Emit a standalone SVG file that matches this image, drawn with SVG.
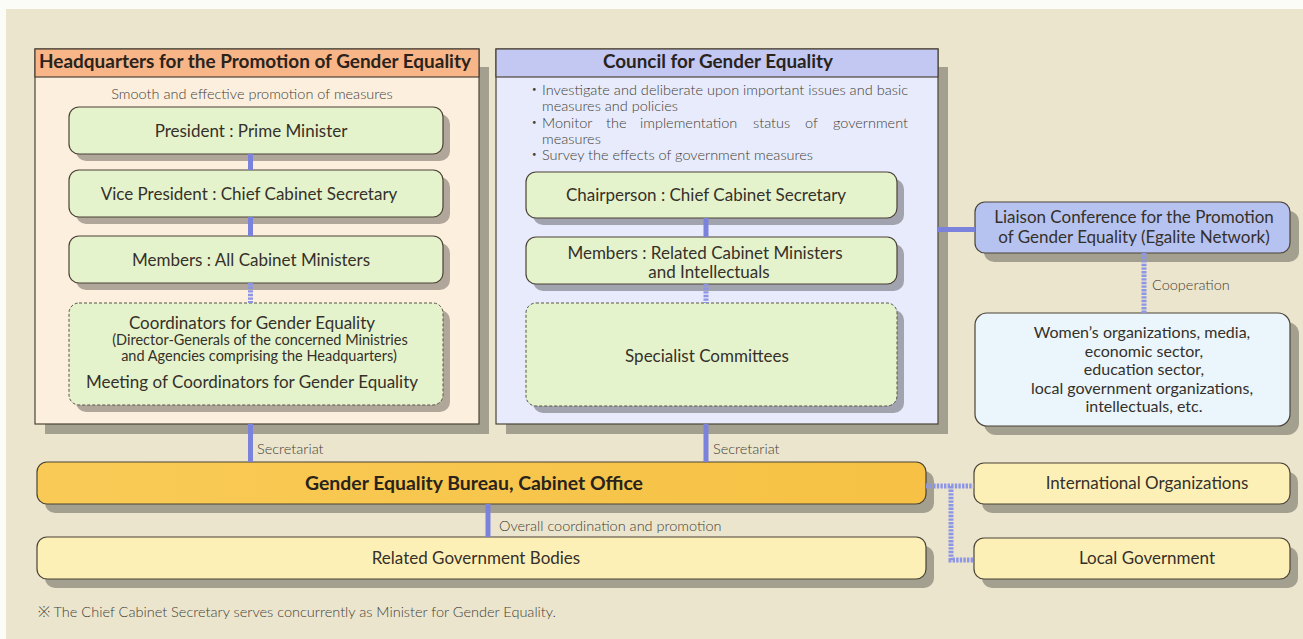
<svg xmlns="http://www.w3.org/2000/svg" width="1303" height="639" viewBox="0 0 1303 639">
  <defs>
    <linearGradient id="gold" x1="0" y1="0" x2="1" y2="0">
      <stop offset="0" stop-color="#f9cb56"/>
      <stop offset="1" stop-color="#f6c144"/>
    </linearGradient>
  </defs>
  <style>
    text { font-family: Lato, "Noto Sans", "Noto Sans CJK JP", sans-serif; fill: #35302a; }
    .c { text-anchor: middle; }
    .t17 { font-size: 17px; }
    .t16 { font-size: 16px; }
    .t15 { font-size: 14.5px; }
    .hd { font-size: 18px; font-weight: 700; fill: #29231c; }
    .lt { font-size: 14.5px; font-weight: 300; fill: #433e37; }
    .lb { font-size: 14.5px; font-weight: 300; fill: #433e37; }
    .box { stroke: #4b4337; stroke-width: 1.2; }
    .green { fill: #e5f3cc; }
    .dash { stroke-dasharray: 3 2; stroke-width: 1; stroke: #5a5247; }
    .pale { fill: #fdf0b7; }
    .sh { fill: #000; fill-opacity: 0.3; }
    .solid { stroke: #7b82dc; stroke-width: 5; fill: none; }
    .dot { stroke: #8c95e6; stroke-width: 5; stroke-dasharray: 2.4 1.2; fill: none; }
  </style>

  <!-- paper -->
  <rect width="1303" height="639" fill="#fbfbf8"/>
  <rect x="6" y="9" width="1297" height="630" fill="#ebe5cd"/>

  <!-- Headquarters -->
  <g id="headquarters">
    <rect class="sh" x="45" y="67" width="444" height="367"/>
    <rect class="box" x="35" y="49" width="444" height="375" fill="#fcefdd"/>
    <rect class="box" x="35" y="49" width="444" height="28" fill="#f8b588"/>
    <text class="hd c" x="255" y="68" textLength="432" lengthAdjust="spacingAndGlyphs">Headquarters for the Promotion of Gender Equality</text>
    <text class="lt c" x="252" y="99">Smooth and effective promotion of measures</text>
  </g>

  <g id="hq-president">
    <rect class="sh" x="76" y="114" width="374" height="47" rx="10"/>
    <rect class="box green" x="69" y="107" width="374" height="47" rx="10"/>
    <text class="t17 c" x="251" y="137">President : Prime Minister</text>
  </g>
  <g id="hq-vice-president">
    <rect class="sh" x="76" y="177" width="374" height="47" rx="10"/>
    <rect class="box green" x="69" y="170" width="374" height="47" rx="10"/>
    <text class="t17 c" x="249" y="200">Vice President : Chief Cabinet Secretary</text>
  </g>
  <g id="hq-members">
    <rect class="sh" x="76" y="243" width="374" height="47" rx="10"/>
    <rect class="box green" x="69" y="236" width="374" height="47" rx="10"/>
    <text class="t17 c" x="251" y="266">Members : All Cabinet Ministers</text>
  </g>
  <g id="hq-coordinators">
    <rect class="sh" x="76" y="310" width="374" height="102" rx="10"/>
    <rect class="green dash" x="69" y="303" width="374" height="102" rx="10"/>
    <text class="t17 c" x="252" y="329">Coordinators for Gender Equality</text>
    <text class="t15 c" x="260" y="345">(Director-Generals of the concerned Ministries</text>
    <text class="t15 c" x="259" y="361">and Agencies comprising the Headquarters)</text>
    <text class="t17 c" x="252" y="388">Meeting of Coordinators for Gender Equality</text>
  </g>

  <!-- Council -->
  <g id="council">
    <rect class="sh" x="506" y="67" width="442" height="367"/>
    <rect class="box" x="496" y="49" width="442" height="375" fill="#e7ebfb"/>
    <rect class="box" x="496" y="49" width="442" height="28" fill="#c2c8f2"/>
    <text class="hd c" x="718" y="68" textLength="230" lengthAdjust="spacingAndGlyphs">Council for Gender Equality</text>
    <text class="lt" x="527" y="95">・</text>
    <text class="lt" x="542" y="95" textLength="366" lengthAdjust="spacing">Investigate and deliberate upon important issues and basic</text>
    <text class="lt" x="542" y="111">measures and policies</text>
    <text class="lt" x="527" y="128">・</text>
    <text class="lt" y="128"><tspan x="542">Monitor</tspan><tspan x="606">the</tspan><tspan x="640">implementation</tspan><tspan x="753">status</tspan><tspan x="805">of</tspan><tspan x="908" text-anchor="end">government</tspan></text>
    <text class="lt" x="542" y="144">measures</text>
    <text class="lt" x="527" y="160">・</text>
    <text class="lt" x="542" y="160">Survey the effects of government measures</text>
  </g>

  <g id="council-chairperson">
    <rect class="sh" x="533" y="179" width="371" height="46" rx="10"/>
    <rect class="box green" x="526" y="172" width="371" height="46" rx="10"/>
    <text class="t17 c" x="706" y="201">Chairperson : Chief Cabinet Secretary</text>
  </g>
  <g id="council-members">
    <rect class="sh" x="533" y="244" width="371" height="47" rx="10"/>
    <rect class="box green" x="526" y="237" width="371" height="47" rx="10"/>
    <text class="t17 c" x="705" y="259">Members : Related Cabinet Ministers</text>
    <text class="t17 c" x="709" y="278">and Intellectuals</text>
  </g>
  <g id="council-specialist">
    <rect class="sh" x="533" y="310" width="371" height="103" rx="10"/>
    <rect class="green dash" x="526" y="303" width="371" height="103" rx="10"/>
    <text class="t17 c" x="707" y="362">Specialist Committees</text>
  </g>

  <!-- Egalite network -->
  <g id="liaison">
    <rect class="sh" x="984" y="211" width="315" height="51" rx="10"/>
    <rect class="box" x="975" y="202" width="315" height="51" rx="10" fill="#b6c3f0"/>
    <text class="t17 c" x="1134" y="223">Liaison Conference for the Promotion</text>
    <text class="t17 c" x="1134" y="243">of Gender Equality (Egalite Network)</text>
  </g>
  <g id="cooperating-bodies">
    <rect class="sh" x="984" y="322" width="315" height="113" rx="12"/>
    <rect class="box" x="975" y="313" width="315" height="113" rx="12" fill="#eaf6fc"/>
    <text class="t16 c" x="1142" y="338">Women’s organizations, media,</text>
    <text class="t16 c" x="1144" y="356.5">economic sector,</text>
    <text class="t16 c" x="1144" y="375">education sector,</text>
    <text class="t16 c" x="1142" y="393.5">local government organizations,</text>
    <text class="t16 c" x="1144" y="412">intellectuals, etc.</text>
  </g>

  <!-- Bureau and related bodies -->
  <g id="bureau">
    <rect class="sh" x="45" y="471" width="889" height="42" rx="10"/>
    <rect class="box" x="37" y="462" width="889" height="42" rx="10" fill="url(#gold)"/>
    <text class="hd c" x="474" y="490" textLength="338" lengthAdjust="spacingAndGlyphs">Gender Equality Bureau, Cabinet Office</text>
  </g>
  <g id="related-bodies">
    <rect class="sh" x="45" y="546" width="889" height="42" rx="10"/>
    <rect class="box pale" x="37" y="537" width="889" height="42" rx="10"/>
    <text class="t17 c" x="476" y="564">Related Government Bodies</text>
  </g>
  <g id="international">
    <rect class="sh" x="982" y="472" width="316" height="41" rx="10"/>
    <rect class="box pale" x="974" y="463" width="316" height="41" rx="10"/>
    <text class="t17 c" x="1147" y="489">International Organizations</text>
  </g>
  <g id="local-government">
    <rect class="sh" x="982" y="547" width="316" height="41" rx="10"/>
    <rect class="box pale" x="974" y="538" width="316" height="41" rx="10"/>
    <text class="t17 c" x="1147" y="564">Local Government</text>
  </g>

  <!-- connectors -->
  <g id="connectors">
    <path class="solid" d="M250.5 154V170M250.5 217V236M250.5 424V462"/>
    <path class="dot" d="M250.5 283V303"/>
    <path class="solid" d="M706 218V237M706 424V462"/>
    <path class="dot" d="M706 284V303"/>
    <path class="solid" d="M938 229.5H975"/>
    <path class="solid" d="M488 504V537"/>
    <path class="dot" d="M1144 253V313"/>
    <path class="dot" d="M926 486H974M951 486V560H974"/>
    <text class="lb" x="257" y="454">Secretariat</text>
    <text class="lb" x="713" y="454">Secretariat</text>
    <text class="lb" x="499" y="531">Overall coordination and promotion</text>
    <text class="lb" x="1152" y="290">Cooperation</text>
  </g>

  <text class="lb" x="38" y="617" textLength="518" lengthAdjust="spacingAndGlyphs">※ The Chief Cabinet Secretary serves concurrently as Minister for Gender Equality.</text>
</svg>
